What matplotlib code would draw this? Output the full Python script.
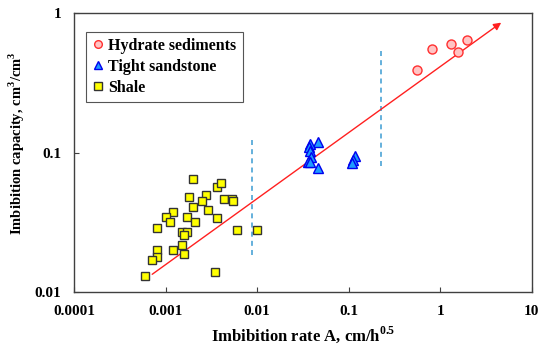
import matplotlib.pyplot as plt

plt.rcParams['font.family'] = 'Liberation Serif'
plt.rcParams['font.weight'] = 'bold'
plt.rcParams['mathtext.fontset'] = 'custom'
plt.rcParams['mathtext.rm'] = 'Liberation Serif:bold'

# data
hydrate_x = [0.561, 0.818, 1.30, 1.58, 1.97]
hydrate_y = [0.390, 0.557, 0.600, 0.528, 0.647]

sand_x = [0.0462, 0.0375, 0.0370, 0.0382, 0.0391, 0.0360, 0.0382, 0.0462, 0.116, 0.111, 0.109]
sand_y = [0.120, 0.116, 0.1106, 0.103, 0.0938, 0.0863, 0.0853, 0.0782, 0.0948, 0.0888, 0.0841]

shale_x = [0.00200, 0.00369, 0.00408, 0.00280, 0.00180, 0.00251, 0.00436, 0.00529, 0.00552,
           0.00200, 0.00292, 0.00120, 0.00101, 0.00111, 0.00170, 0.00210, 0.00369, 0.000804,
           0.00150, 0.00170, 0.00160, 0.00596, 0.00991, 0.00151, 0.00120, 0.000798, 0.000804,
           0.000704, 0.00161, 0.000600, 0.00348]
shale_y = [0.0646, 0.0571, 0.0611, 0.0499, 0.0480, 0.0451, 0.0469, 0.0469, 0.0451,
           0.0409, 0.0389, 0.0378, 0.0348, 0.0321, 0.0348, 0.0321, 0.0339, 0.0289,
           0.0269, 0.0269, 0.0257, 0.0280, 0.0280, 0.0218, 0.0201, 0.0201, 0.0180,
           0.0170, 0.0189, 0.0130, 0.0139]

trend_start = (0.000715, 0.01346)
trend_end = (4.63, 0.857)

dash_x = [0.0089, 0.223]
dash_lo = [0.0185, 0.0809]
dash_hi = [0.127, 0.546]

x_ticks = [0.0001, 0.001, 0.01, 0.1, 1, 10]
x_labels = ['0.0001', '0.001', '0.01', '0.1', '1', '10']
y_ticks = [0.01, 0.1, 1]
y_labels = ['0.01', '0.1', '1']

fig = plt.figure(figsize=(5.5, 3.49), dpi=100)
ax = fig.add_axes([0.1345, 0.1625, 0.8325, 0.7995])
ax.set_xscale('log')
ax.set_yscale('log')
ax.set_xlim(0.0001, 10)
ax.set_ylim(0.01, 1)

for xv, lo, hi in zip(dash_x, dash_lo, dash_hi):
    ax.plot([xv, xv], [lo, hi], color='#4aa3d6', lw=1.2, ls=(0, (3, 2.5)), zorder=1)

ax.annotate('', xy=trend_end, xytext=trend_start,
            arrowprops=dict(arrowstyle='-|>', color='#ff2020', lw=1.0, mutation_scale=11,
                            shrinkA=0, shrinkB=0), zorder=2)

ax.plot(hydrate_x, hydrate_y, 'o', ms=6.5, mfc='#ffc4c4', mec='#ff3030', mew=1.0,
        ls='none', label='Hydrate sediments', zorder=3)
ax.plot(sand_x, sand_y, '^', ms=7, mfc='#1e9bff', mec='#0000ee', mew=1.0,
        ls='none', label='Tight sandstone', zorder=3)
ax.plot(shale_x, shale_y, 's', ms=6, mfc='#ffff00', mec='#333333', mew=1.0,
        ls='none', label='Shale', zorder=3)

ax.set_xticks(x_ticks)
ax.set_xticklabels(x_labels)
ax.set_yticks(y_ticks)
ax.set_yticklabels(y_labels)
ax.minorticks_off()
ax.tick_params(direction='in', length=3.5, width=0.8, color='#404040', labelsize=11)
ax.tick_params(axis='x', pad=9)
ax.tick_params(axis='y', pad=9)
for s in ax.spines.values():
    s.set_color('#404040')
    s.set_linewidth(1.0)

ax.set_xlabel(r'Imbibition rate A, cm/h$^{0.5}$', fontsize=12, fontweight='bold', labelpad=5)
ax.set_ylabel(r'Imbibition capacity, cm$^{3}$/cm$^{3}$', fontsize=10.5, fontweight='bold')
ax.yaxis.set_label_coords(-0.103, 0.535)

leg = ax.legend(loc='upper left', bbox_to_anchor=(0.0255, 0.934), borderaxespad=0,
                prop={'family': 'Liberation Serif', 'weight': 'bold', 'size': 11.5},
                handlelength=0.7, handletextpad=0.3,
                labelspacing=0.3, fancybox=False, framealpha=1, edgecolor='#555555',
                borderpad=0.4, markerscale=0.85)
leg.get_frame().set_linewidth(0.8)

fig.savefig('out.png', dpi=100)
